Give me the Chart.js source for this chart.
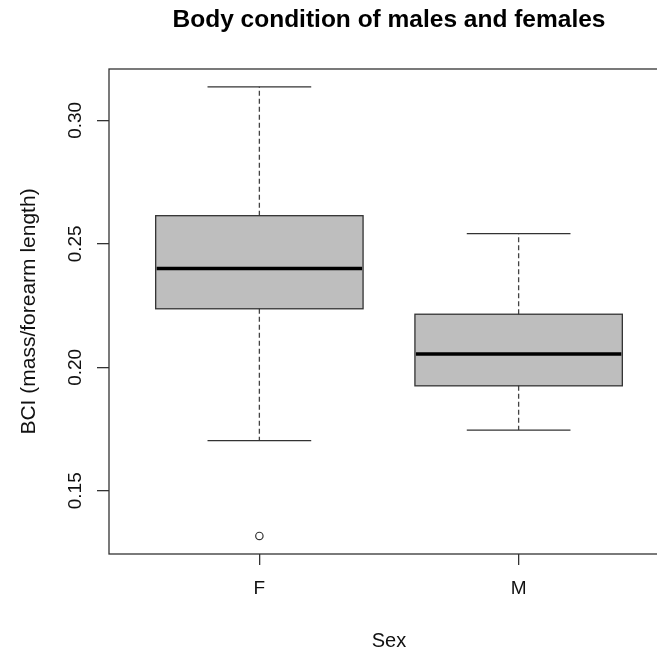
<!DOCTYPE html>
<html><head><meta charset="utf-8">
<script src="https://cdn.jsdelivr.net/npm/chart.js@4"></script>
<style>html,body{margin:0;padding:0;overflow:hidden;background:#fff;width:657px;height:652px}
#wrap{position:relative;width:700px;height:652px}</style></head>
<body><div id="wrap"><canvas id="c" width="700" height="652"></canvas></div>
<script>
const categories = ['F', 'M'];
const whiskerLow = [0.1703, 0.1746];
const q1 = [0.2237, 0.1925];
const medians = [0.2400, 0.2054];
const q3 = [0.2614, 0.2215];
const whiskerHigh = [0.3136, 0.2541];
const outlierGroup = [1];
const outlierValues = [0.1317];
const yTicks = [0.15, 0.20, 0.25, 0.30];
const yTickLabels = ['0.15', '0.20', '0.25', '0.30'];
const titleText = 'Body condition of males and females';
const xTitle = 'Sex';
const yTitle = 'BCI (mass/forearm length)';

const FONT = '"Liberation Sans", Arial, sans-serif';
const LINE = '#333';

const extras = {
  id: 'boxExtras',
  afterDatasetsDraw(chart) {
    const { ctx, chartArea: a, scales: { x, y } } = chart;
    const unit = x.getPixelForValue(2) - x.getPixelForValue(1);
    const seg = (x1, y1, x2, y2) => { ctx.beginPath(); ctx.moveTo(x1, y1); ctx.lineTo(x2, y2); ctx.stroke(); };
    ctx.save();
    categories.forEach((c, i) => {
      const cx = x.getPixelForValue(i + 1);
      ctx.strokeStyle = '#444'; ctx.lineWidth = 1.3;
      ctx.setLineDash([5, 3]);
      seg(cx, y.getPixelForValue(q3[i]), cx, y.getPixelForValue(whiskerHigh[i]));
      seg(cx, y.getPixelForValue(q1[i]), cx, y.getPixelForValue(whiskerLow[i]));
      ctx.setLineDash([]);
      ctx.strokeStyle = LINE;
      seg(cx - 0.2 * unit, y.getPixelForValue(whiskerHigh[i]), cx + 0.2 * unit, y.getPixelForValue(whiskerHigh[i]));
      seg(cx - 0.2 * unit, y.getPixelForValue(whiskerLow[i]), cx + 0.2 * unit, y.getPixelForValue(whiskerLow[i]));
      const yt = y.getPixelForValue(q3[i]), yb = y.getPixelForValue(q1[i]);
      ctx.strokeRect(cx - 0.4 * unit, yt, 0.8 * unit, yb - yt);
      ctx.strokeStyle = '#000'; ctx.lineWidth = 3.5;
      seg(cx - 0.4 * unit + 1, y.getPixelForValue(medians[i]), cx + 0.4 * unit - 1, y.getPixelForValue(medians[i]));
    });
    ctx.strokeStyle = LINE; ctx.lineWidth = 1.3;
    ctx.strokeRect(a.left, a.top, a.right - a.left, a.bottom - a.top);

    ctx.fillStyle = '#111';
    ctx.font = '19px ' + FONT;
    ctx.textAlign = 'center'; ctx.textBaseline = 'alphabetic';
    yTicks.forEach((v, k) => {
      ctx.save();
      ctx.translate(81, y.getPixelForValue(v));
      ctx.rotate(-Math.PI / 2);
      ctx.fillText(yTickLabels[k], 0, 0);
      ctx.restore();
    });
    ctx.save();
    ctx.translate(35, (a.top + a.bottom) / 2);
    ctx.rotate(-Math.PI / 2);
    ctx.font = '21px ' + FONT;
    ctx.fillText(yTitle, 0, 0);
    ctx.restore();
    ctx.font = '20px ' + FONT;
    ctx.fillText(xTitle, (a.left + a.right) / 2, 647);
    ctx.fillStyle = '#000';
    ctx.font = 'bold 24.5px ' + FONT;
    ctx.fillText(titleText, (a.left + a.right) / 2, 27);
    ctx.restore();
  }
};

new Chart(document.getElementById('c'), {
  type: 'bar',
  data: {
    datasets: [
      {
        type: 'bar',
        data: categories.map((c, i) => ({ x: i + 1, y: [q1[i], q3[i]] })),
        backgroundColor: '#bebebe',
        borderWidth: 0,
        barPercentage: 0.8,
        categoryPercentage: 1,
        grouped: false
      },
      {
        type: 'scatter',
        data: outlierValues.map((v, k) => ({ x: outlierGroup[k], y: v })),
        pointRadius: 3.7,
        borderWidth: 1.2,
        borderColor: LINE,
        backgroundColor: '#fff'
      }
    ]
  },
  options: {
    responsive: false,
    animation: false,
    devicePixelRatio: 1,
    layout: { padding: { top: 69, right: 31, left: 0, bottom: 0 } },
    plugins: { legend: { display: false }, tooltip: { enabled: false }, title: { display: false } },
    scales: {
      x: {
        type: 'linear', min: 0.42, max: 2.58, offset: false,
        afterBuildTicks: s => { s.ticks = categories.map((c, i) => ({ value: i + 1 })); },
        afterFit: s => { s.height = 98; },
        ticks: { callback: v => categories[v - 1], font: { size: 19, family: FONT }, color: '#111', padding: 12, maxRotation: 0, autoSkip: false },
        grid: { display: true, offset: false, drawOnChartArea: false, drawTicks: true, tickLength: 11, color: LINE, lineWidth: 1.3 },
        border: { display: false }
      },
      y: {
        min: 0.1244, max: 0.3208,
        afterBuildTicks: s => { s.ticks = yTicks.map(v => ({ value: v })); },
        afterFit: s => { s.width = 109; },
        ticks: { display: false },
        grid: { display: true, drawOnChartArea: false, drawTicks: true, tickLength: 12, color: LINE, lineWidth: 1.3 },
        border: { display: false }
      }
    }
  },
  plugins: [extras]
});
</script>
</body></html>
